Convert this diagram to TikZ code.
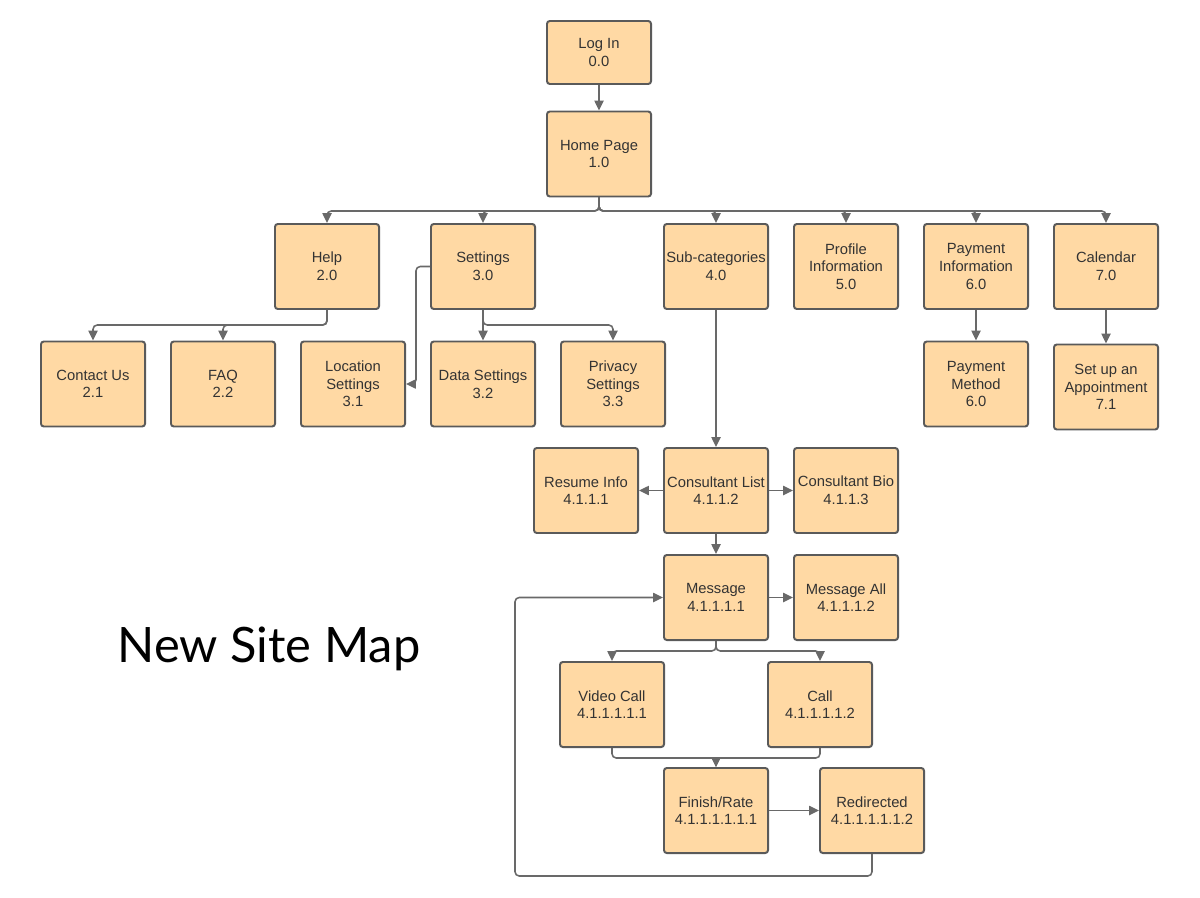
\documentclass[tikz,border=0pt]{standalone}
\usepackage{fontspec}
\setmainfont{Liberation Sans}
\newfontfamily\titlefont{Lato}
\usetikzlibrary{arrows.meta}

\definecolor{boxfill}{RGB}{255,217,164}
\definecolor{boxline}{RGB}{90,90,90}
\definecolor{linkgray}{RGB}{105,105,105}
\definecolor{txtgray}{RGB}{51,51,51}

\tikzset{
  page/.style={draw=boxline, fill=boxfill, line width=1.4pt, rounded corners=2pt,
    minimum width=2.6cm, minimum height=2.125cm, inner sep=1pt, align=center,
    text=txtgray, font=\fontsize{10.5}{12.5}\selectfont},
  link/.style={draw=linkgray, line width=1.1pt, rounded corners=3pt,
    -{Triangle[length=7pt,width=6.5pt]}},
}

\begin{document}
\begin{tikzpicture}[x=0.025cm, y=-0.025cm]
    \useasboundingbox (0,0) rectangle (1200,898);

    % Top of the map
    \node[page, minimum height=1.575cm] (login) at (599,52.5) {Log In\\0.0};
    \node[page] (home) at (599,154) {Home Page\\1.0};

    % Main sections
    \node[page] (help) at (327,266.5) {Help\\2.0};
    \node[page] (settings) at (483,266.5) {Settings\\3.0};
    \node[page] (subcat) at (716,266.5) {Sub-categories\\4.0};
    \node[page] (profile) at (846,266.5) {Profile\\Information\\5.0};
    \node[page] (payinfo) at (976,266.5) {Payment\\Information\\6.0};
    \node[page] (calendar) at (1106,266.5) {Calendar\\7.0};

    % Sub pages
    \node[page] (contact) at (93,384) {Contact Us\\2.1};
    \node[page] (faq) at (223,384) {FAQ\\2.2};
    \node[page] (location) at (353,384) {Location\\Settings\\3.1};
    \node[page] (data) at (483,384) {Data Settings\\3.2};
    \node[page] (privacy) at (613,384) {Privacy\\Settings\\3.3};
    \node[page] (paymethod) at (976,384) {Payment\\Method\\6.0};
    \node[page] (appoint) at (1106,387) {Set up an\\Appointment\\7.1};

    % Consultant pages
    \node[page] (resume) at (586,490.5) {Resume Info\\4.1.1.1};
    \node[page] (conslist) at (716,490.5) {Consultant List\\4.1.1.2};
    \node[page] (bio) at (846,490.5) {Consultant Bio\\4.1.1.3};
    \node[page] (message) at (716,597.5) {Message\\4.1.1.1.1};
    \node[page] (msgall) at (846,597.5) {Message All\\4.1.1.1.2};
    \node[page] (video) at (612,704.5) {Video Call\\4.1.1.1.1.1};
    \node[page] (call) at (820,704.5) {Call\\4.1.1.1.1.2};
    \node[page] (finish) at (716,810.5) {Finish/Rate\\4.1.1.1.1.1.1};
    \node[page] (redirect) at (872,810.5) {Redirected\\4.1.1.1.1.1.2};

    % Title
    \node[font=\titlefont\fontsize{34.7}{42}\selectfont] (title) at (269,649) {New Site Map};

    % Bus levels
    \coordinate (hbus) at (0,211);
    \coordinate (sbus) at (0,325);
    \coordinate (mbus) at (0,651);
    \coordinate (fbus) at (0,758);
    \coordinate (loop) at (515,876);

    % Connectors
    \draw[link] (login) -- (home);
    \foreach \c in {help,settings,subcat,profile,payinfo,calendar}
        \draw[link] (home.south) -- (home.south |- hbus) -| (\c.north);

    \foreach \c in {contact,faq}
        \draw[link] (help.south) -- (help.south |- sbus) -| (\c.north);
    \draw[link] (settings.west) -- ++(-14,0) |- (location.east);
    \foreach \c in {data,privacy}
        \draw[link] (settings.south) -- (settings.south |- sbus) -| (\c.north);
    \draw[link] (payinfo) -- (paymethod);
    \draw[link] (calendar) -- (appoint);

    \draw[link] (subcat) -- (conslist);
    \draw[link] (conslist) -- (resume);
    \draw[link] (conslist) -- (bio);
    \draw[link] (conslist) -- (message);
    \draw[link] (message) -- (msgall);
    \foreach \c in {video,call}
        \draw[link] (message.south) -- (message.south |- mbus) -| (\c.north);
    \foreach \c in {video,call}
        \draw[link] (\c.south) -- (\c.south |- fbus) -| (finish.north);
    \draw[link] (finish) -- (redirect);
    \draw[link] (redirect.south) |- (loop) |- (message.west);
\end{tikzpicture}
\end{document}
